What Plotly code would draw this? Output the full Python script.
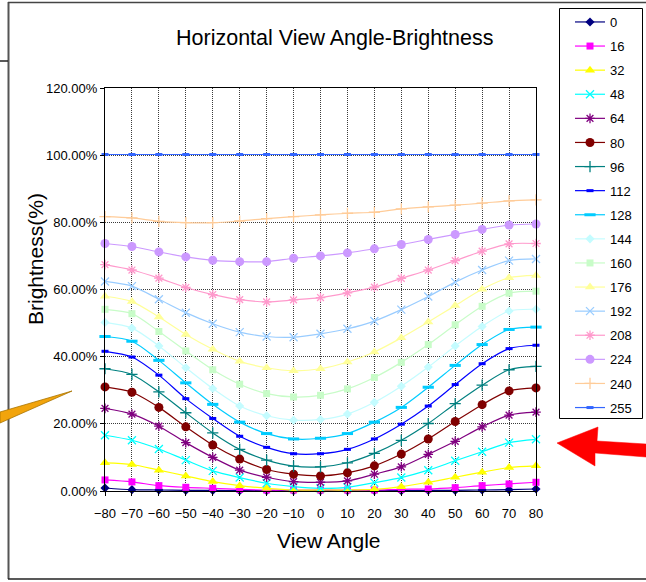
import plotly.graph_objects as go

# View angle (degrees)
angles = [-80, -70, -60, -50, -40, -30, -20, -10, 0, 10, 20, 30, 40, 50, 60, 70, 80]

# Gray levels
levels = ["0", "16", "32", "48", "64", "80", "96", "112", "128",
          "144", "160", "176", "192", "208", "224", "240", "255"]

# Brightness ticks (%)
y_ticks = [0, 20, 40, 60, 80, 100, 120]

# Brightness (%) per gray level
b0 = [0.9, 0.4, 0.3, 0.2, 0.2, 0.1, 0.1, 0.1, 0.1, 0.1, 0.1, 0.1, 0.2, 0.2, 0.3, 0.4, 0.6]
b16 = [3.3, 2.7, 1.6, 1.1, 0.8, 0.5, 0.3, 0.3, 0.3, 0.3, 0.3, 0.5, 0.6, 1.0, 1.6, 2.1, 2.6]
b32 = [8.4, 7.9, 6.2, 4.5, 2.8, 1.6, 0.8, 0.3, 0.3, 0.3, 0.5, 1.3, 2.6, 4.1, 5.6, 7.0, 7.5]
b48 = [16.6, 15.1, 12.5, 9.2, 6.0, 4.0, 2.3, 1.3, 0.8, 1.1, 2.5, 4.0, 6.2, 9.0, 11.7, 14.4, 15.4]
b64 = [24.6, 22.9, 19.3, 14.4, 10.0, 6.2, 4.1, 2.8, 2.6, 3.0, 5.0, 7.2, 10.9, 14.8, 19.1, 22.6, 23.5]
b80 = [31.0, 29.4, 24.9, 19.1, 13.7, 9.5, 6.4, 5.0, 4.5, 5.4, 7.5, 11.0, 15.5, 20.7, 25.7, 29.8, 30.7]
b96 = [36.4, 34.7, 29.5, 23.3, 17.3, 12.4, 9.2, 7.4, 7.2, 8.4, 11.2, 15.1, 20.1, 26.0, 31.5, 36.1, 37.1]
b112 = [41.6, 39.9, 34.5, 27.5, 21.6, 16.3, 13.0, 11.1, 11.1, 12.4, 15.5, 19.9, 25.3, 31.7, 37.9, 42.4, 43.4]
b128 = [46.0, 44.6, 38.9, 32.2, 25.8, 20.5, 17.1, 15.5, 15.7, 17.1, 20.5, 24.9, 30.9, 37.4, 43.6, 48.1, 48.8]
b144 = [50.2, 48.5, 43.2, 36.7, 30.5, 25.3, 22.4, 21.1, 21.3, 22.9, 26.4, 31.2, 36.9, 43.2, 49.0, 53.6, 54.1]
b160 = [54.1, 52.8, 47.5, 41.7, 36.1, 31.8, 29.0, 28.0, 28.5, 30.4, 33.8, 38.3, 43.6, 49.5, 55.0, 58.9, 59.5]
b176 = [58.0, 56.4, 51.8, 46.6, 42.2, 38.6, 36.7, 35.8, 36.4, 38.4, 41.4, 45.6, 50.3, 55.2, 60.1, 63.5, 64.2]
b192 = [62.4, 61.0, 57.1, 53.1, 49.8, 47.3, 46.0, 45.8, 46.8, 48.3, 50.6, 54.0, 57.9, 62.2, 65.8, 68.6, 69.1]
b208 = [67.4, 65.8, 63.4, 60.6, 58.5, 57.0, 56.3, 56.9, 57.6, 59.0, 60.7, 63.3, 65.8, 68.6, 71.4, 73.6, 73.7]
b224 = [73.7, 72.8, 71.2, 69.7, 68.7, 68.3, 68.3, 69.3, 70.0, 70.9, 72.1, 73.4, 74.9, 76.4, 77.9, 79.2, 79.5]
b240 = [81.7, 81.3, 80.3, 79.9, 79.9, 80.4, 81.1, 81.7, 82.2, 82.7, 83.0, 84.0, 84.6, 85.1, 85.7, 86.4, 86.7]
b255 = [100.2, 100.2, 100.2, 100.2, 100.2, 100.2, 100.2, 100.2, 100.2, 100.2, 100.2, 100.2, 100.2, 100.2, 100.2, 100.2, 100.2]

series = [b0, b16, b32, b48, b64, b80, b96, b112, b128,
          b144, b160, b176, b192, b208, b224, b240, b255]

# Line / marker styling per gray level
colors = ["#000080", "#FF00FF", "#FFFF00", "#00FFFF", "#800080", "#800000",
          "#008080", "#0000FF", "#00CCFF", "#C4FCFF", "#C8FCC8", "#FFFF99",
          "#99CCFF", "#FF99CC", "#CC99FF", "#FFCC99", "#3366FF"]
symbols = ["diamond", "square", "triangle-up", "x-thin-open", "asterisk-open",
           "circle", "cross-thin-open", "line-ew-open", "line-ew-open",
           "diamond", "square", "triangle-up", "x-thin-open", "asterisk-open",
           "circle", "cross-thin-open", "line-ew-open"]
sizes = [7, 7, 9, 8, 8, 9, 8, 5, 8, 7, 7, 9, 8, 8, 9, 8, 5]

W, H = 646, 582
ML, MR, MT, MB = 105, 110, 88, 91
PW, PH = W - ML - MR, H - MT - MB


def px(x):
    return (x - ML) / PW


def py(y):
    return (H - MB - y) / PH


fig = go.Figure()
for name, vals, col, sym, sz in zip(levels, series, colors, symbols, sizes):
    open_sym = sym.endswith("-open")
    fig.add_trace(go.Scatter(
        x=angles, y=vals, name=name, legendgroup=name,
        mode="lines+markers", line=dict(color=col, width=1.2, shape="spline", smoothing=0.8),
        marker=dict(symbol=sym, size=sz, color=col,
                    line=dict(color=col, width=3 if sym.startswith("line") else (1.3 if open_sym else 0))),
        cliponaxis=False,
    ))

font_family = "Liberation Sans, Arial, sans-serif"

shapes = [
    # outer sheet frame
    dict(type="line", xref="paper", yref="paper", x0=px(8.5), x1=px(8.5), y0=py(2), y1=py(579),
         line=dict(color="#555555", width=2)),
    dict(type="line", xref="paper", yref="paper", x0=px(8), x1=px(646), y0=py(2.5), y1=py(2.5),
         line=dict(color="#444444", width=1.5)),
    dict(type="line", xref="paper", yref="paper", x0=px(8), x1=px(646), y0=py(579), y1=py(579),
         line=dict(color="#222222", width=1.5)),
    dict(type="line", xref="paper", yref="paper", x0=px(0), x1=px(8), y0=py(61), y1=py(61),
         line=dict(color="#222222", width=1.5)),
    # legend frame
    dict(type="rect", xref="paper", yref="paper", x0=px(559.5), x1=px(642.5), y0=py(8.5), y1=py(418.5),
         line=dict(color="#000000", width=1), fillcolor="rgba(0,0,0,0)"),
    # orange pointer
    dict(type="path", xref="paper", yref="paper",
         path=f"M {px(0)},{py(412)} L {px(72)},{py(391)} L {px(0)},{py(423)} Z",
         fillcolor="#F2A40C", line=dict(color="#A87400", width=0.8)),
    # red arrow
    dict(type="path", xref="paper", yref="paper",
         path=(f"M {px(557)},{py(443)} L {px(598)},{py(427)} L {px(597)},{py(441)} "
               f"L {px(646)},{py(444)} L {px(646)},{py(457)} L {px(595)},{py(453)} "
               f"L {px(595)},{py(466)} Z"),
         fillcolor="#FF0000", line=dict(color="#FF0000", width=0.5)),
]

annotations = [
    dict(text="Horizontal View Angle-Brightness", xref="paper", yref="paper",
         x=px(334.5), y=py(38), xanchor="center", yanchor="middle", showarrow=False,
         font=dict(family=font_family, size=21.5, color="#000000")),
    dict(text="View Angle", xref="paper", yref="paper",
         x=px(328.5), y=py(540), xanchor="center", yanchor="middle", showarrow=False,
         font=dict(family=font_family, size=21, color="#000000")),
    dict(text="Brightness(%)", xref="paper", yref="paper", textangle=-90,
         x=px(35), y=py(259), xanchor="center", yanchor="middle", showarrow=False,
         font=dict(family=font_family, size=21, color="#000000")),
]

fig.update_layout(
    width=W, height=H,
    margin=dict(l=ML, r=MR, t=MT, b=MB, pad=0, autoexpand=False),
    paper_bgcolor="white", plot_bgcolor="white",
    font=dict(family=font_family, size=13, color="#000000"),
    shapes=shapes, annotations=annotations,
    legend=dict(
        x=px(570), y=py(7), xanchor="left", yanchor="top",
        borderwidth=0, bgcolor="rgba(0,0,0,0)",
        traceorder="grouped", tracegroupgap=4.2, maxheight=600,
        font=dict(family=font_family, size=13, color="#000000"),
        itemwidth=30,
    ),
)

fig.update_xaxes(
    range=[-80, 80], tickmode="array", tickvals=angles,
    showline=True, linecolor="#000000", linewidth=1.3, mirror=True,
    showgrid=True, gridcolor="#3a3a3a", griddash="1px,1px", gridwidth=1,
    ticks="outside", ticklen=4, tickcolor="#000000",
    ticklabelstandoff=6, zeroline=False,
    tickfont=dict(family=font_family, size=13),
)
fig.update_yaxes(
    range=[0, 120], tickmode="array", tickvals=y_ticks,
    ticktext=[f"{v:.2f}%" for v in y_ticks],
    showline=True, linecolor="#000000", linewidth=1.3, mirror=True,
    showgrid=True, gridcolor="#3a3a3a", griddash="1px,1px", gridwidth=1,
    ticks="outside", ticklen=4, tickcolor="#000000", zeroline=False,
    tickfont=dict(family=font_family, size=13),
)

fig.write_html("out.html")
